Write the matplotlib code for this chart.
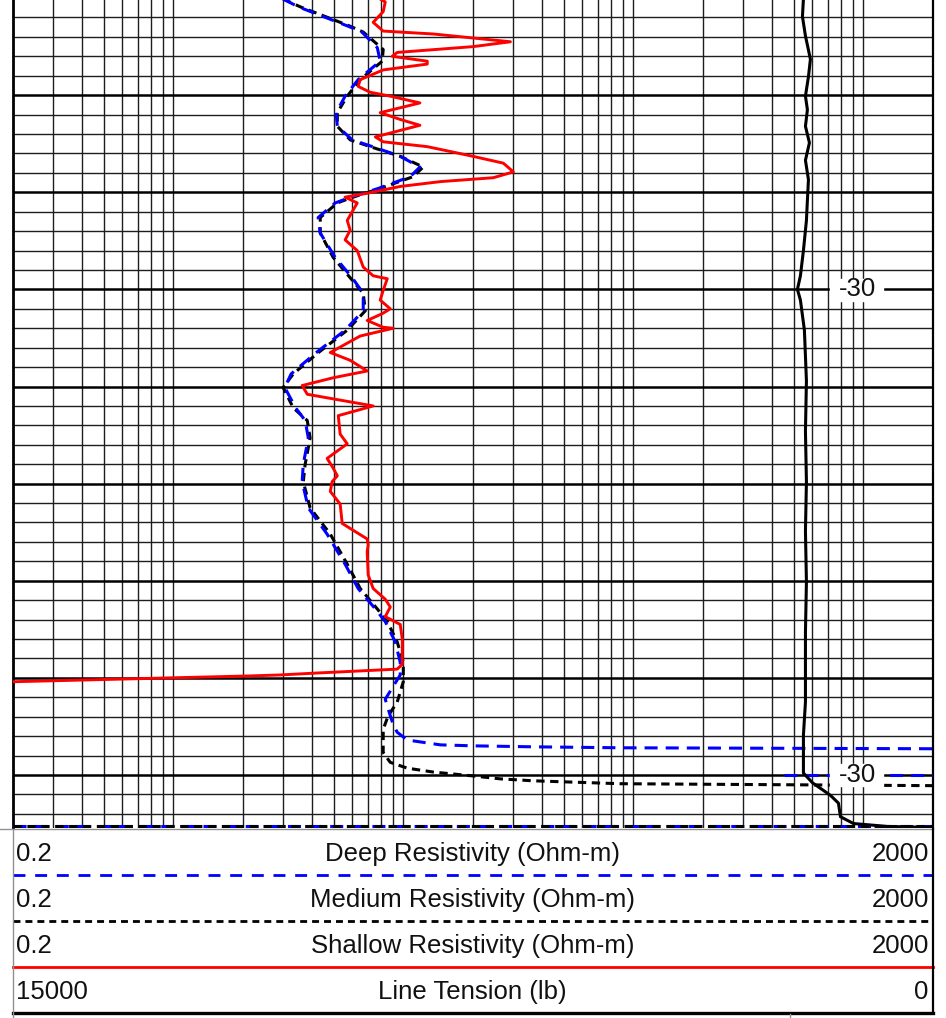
import numpy as np
import matplotlib.pyplot as plt
from matplotlib.lines import Line2D

plt.rcParams['font.family'] = ['Liberation Sans', 'DejaVu Sans']
plt.rcParams['lines.scale_dashes'] = False
plt.rcParams['lines.solid_joinstyle'] = 'round'
plt.rcParams['lines.dash_joinstyle'] = 'round'

# depth window (ft) and resistivity scale (ohm-m)
depth_top, depth_bot = 2970.2, 3055.46
res_min, res_max = 0.2, 2000
tension_left, tension_right = 15000, 0

# shallow resistivity
shallow_depth = [2970.1, 2970.4, 2971.4, 2972.5, 2973.4, 2973.7, 2974.5, 2975.0, 2975.6, 2976.0,
                 2976.5, 2976.8, 2977.4, 2978.4, 2979.1, 2979.7, 2980.1, 2980.8, 2981.8, 2982.5,
                 2983.1, 2984.3, 2984.8, 2985.3, 2985.8, 2986.3, 2987.0, 2987.9, 2988.5, 2988.9,
                 2989.4, 2990.1, 2990.5, 2991.1, 2992.0, 2992.9, 2993.9, 2994.9, 2996.0, 2997.7,
                 2998.6, 2998.9, 3000.1, 3001.1, 3002.0, 3002.5, 3003.2, 3003.9, 3004.0, 3004.8,
                 3006.5, 3007.3, 3008.4, 3009.1, 3009.9, 3010.8, 3012.0, 3013.0, 3014.9, 3015.9,
                 3017.4, 3018.4, 3019.2, 3019.8, 3020.8, 3022.1, 3024.1, 3025.7, 3026.3, 3027.0,
                 3029.4, 3030.8, 3031.9, 3032.7, 3033.7, 3034.5, 3036.0, 3038.6, 3039.1, 3039.2,
                 3039.5, 3039.7, 3039.8, 3040.4]
shallow_res = [7.93, 8.34, 8.17, 7.39, 8.17, 13.5, 29.2, 20.1, 9.40, 8.94,
               12.7, 12.7, 8.17, 6.49, 6.36, 7.17, 8.77, 11.8, 7.93, 9.69,
               11.8, 7.55, 8.17, 12.7, 16.0, 20.1, 27.2, 30.1, 24.6, 14.5,
               9.69, 6.96, 5.58, 6.30, 5.99, 5.70, 5.87, 5.58, 6.30, 6.69,
               7.39, 8.51, 8.17, 7.93, 8.77, 8.09, 6.96, 8.17, 9.03, 6.49,
               4.81, 5.87, 6.96, 4.95, 3.63, 3.82, 7.39, 5.21, 5.31, 5.70,
               4.66, 4.95, 5.16, 4.90, 4.81, 5.31, 5.42, 6.96, 7.03, 6.96,
               7.03, 7.39, 8.34, 8.77, 8.34, 9.69, 9.89, 9.89, 9.40, 7.70,
               4.22, 2.91, 2.16, 0.2]

# medium resistivity
medium_depth = [2970.1, 2970.9, 2971.7, 2972.9, 2973.5, 2975.3, 2976.5, 2978.4, 2980.1, 2981.8,
                2983.2, 2984.6, 2985.4, 2986.3, 2987.4, 2988.4, 2989.6, 2990.6, 2991.1, 2992.6,
                2994.2, 2996.7, 2998.8, 3000.4, 3002.2, 3004.2, 3006.6, 3008.7, 3010.1, 3012.2,
                3013.5, 3015.3, 3018.0, 3019.8, 3022.5, 3025.2, 3028.3, 3030.8, 3032.9, 3034.2,
                3036.3, 3038.4, 3040.4, 3042.5, 3043.9, 3045.3, 3047.7, 3048.7, 3049.3, 3049.7,
                3050.1, 3050.4, 3050.6, 3050.9, 3051.1]
medium_res = [3.00, 3.56, 4.35, 5.87, 6.69, 8.17, 8.09, 6.49, 5.70, 5.16,
              5.16, 5.87, 7.39, 9.69, 12.2, 11.0, 7.93, 5.87, 5.16, 4.35,
              4.35, 4.95, 5.87, 6.69, 6.83, 5.70, 4.22, 3.32, 3.00, 3.32,
              3.82, 3.93, 3.74, 3.67, 3.93, 4.81, 5.70, 6.49, 7.70, 8.51,
              9.40, 9.99, 9.99, 9.40, 8.59, 8.17, 8.17, 8.77, 10.4, 13.5,
              20.1, 26.4, 36.7, 87.8, 2000]

# deep resistivity
deep_depth = [2970.1, 2970.9, 2971.7, 2972.9, 2973.5, 2975.1, 2976.5, 2978.4, 2980.1, 2981.8,
              2983.2, 2984.6, 2985.4, 2986.3, 2987.4, 2988.4, 2989.6, 2990.6, 2991.1, 2992.6,
              2994.2, 2996.7, 2998.8, 3000.4, 3002.2, 3004.2, 3006.6, 3008.7, 3010.1, 3012.2,
              3013.5, 3015.3, 3018.0, 3019.8, 3022.5, 3025.2, 3028.3, 3030.8, 3032.9, 3034.2,
              3036.3, 3038.4, 3039.7, 3042.2, 3043.9, 3044.8, 3045.6, 3046.4, 3046.9, 3047.0,
              3047.1, 3047.2, 3047.3]
deep_res = [3.00, 3.49, 4.26, 5.75, 6.60, 7.70, 7.93, 6.36, 5.58, 5.10,
            5.16, 5.99, 7.55, 9.69, 11.8, 10.7, 7.78, 5.75, 5.05, 4.26,
            4.35, 5.05, 5.99, 6.69, 6.69, 5.58, 4.13, 3.25, 3.05, 3.40,
            3.74, 3.86, 3.67, 3.63, 3.86, 4.66, 5.58, 6.36, 7.55, 8.34,
            9.22, 9.69, 9.69, 8.34, 8.77, 9.03, 9.40, 10.4, 14.5, 20.1,
            36.7, 87.8, 2000]

# deep curve segment wrapping in from the right, and both curves along the last sample
deep_wrap_depth = [3050.0, 3050.0]
deep_wrap_res = [450, 2000]
last_depth = [3055.3, 3055.3]
last_res = [0.2, 2000]

# line tension (lb)
tension_depth = [2970.1, 2971.9, 2973.9, 2976.3, 2978.1, 2980.1, 2981.5, 2983.2, 2984.9, 2986.7,
                 2988.7, 2990.8, 2992.9, 2996.0, 2998.6, 3000.0, 3001.1, 3004.2, 3009.4, 3014.6,
                 3019.8, 3024.9, 3030.1, 3035.3, 3040.4, 3042.5, 3045.9, 3049.8, 3050.8, 3052.1,
                 3052.9, 3054.3, 3055.0, 3055.3, 3055.4]
tension = [2105, 2121, 2072, 1991, 2023, 2072, 2040, 2072, 2007, 2072,
           2023, 2040, 2056, 2105, 2154, 2203, 2154, 2089, 2056, 2072,
           2056, 2072, 2056, 2072, 2072, 2072, 2105, 2105, 1958, 1664,
           1534, 1501, 1289, 734, 0]

# depth annotations
depth_marks = [3000, 3050]
depth_texts = ['-30', '-30']

# header rows: left value, title, right value
header_left = ['0.2', '0.2', '0.2', '15000']
header_title = ['Deep Resistivity (Ohm-m)', 'Medium Resistivity (Ohm-m)',
                'Shallow Resistivity (Ohm-m)', 'Line Tension (lb)']
header_right = ['2000', '2000', '2000', '0']

W, H = 946, 1018
x0, x1 = 12.7, 932.5
fs = 18.5
txt_col = '#111111'
fig = plt.figure(figsize=(W / 100, H / 100), dpi=100)

# ---- log track ----
ax = fig.add_axes([x0 / W, 1 - 828 / H, (x1 - x0) / W, 828 / H])
ax.set_xscale('log')
ax.set_xlim(res_min, res_max)
ax.set_ylim(depth_bot, depth_top)
ax.set_xticks([])
ax.set_xticks([], minor=True)
ax.set_yticks([])
for s in ['top', 'bottom']:
    ax.spines[s].set_visible(False)
ax.spines['left'].set_linewidth(2.0)
ax.spines['right'].set_linewidth(1.6)

# log grid
for dec in [0.1, 1, 10, 100, 1000]:
    for k in range(1, 10):
        v = k * dec
        if res_min < v < res_max:
            ax.axvline(v, color='#1e1e1e', lw=1.0, zorder=1)
# depth grid, heavy every 10 ft
for d in range(2972, 3056, 2):
    if d % 10 == 0:
        ax.axhline(d, color='black', lw=1.8, zorder=1)
    else:
        ax.axhline(d, color='#1e1e1e', lw=1.0, zorder=1)

blue_dash = (9.4, 5.8)
black_dash = (6.0, 4.0)
ax.plot(medium_res, medium_depth, color='black', lw=2.2, dashes=black_dash, zorder=3)
ax.plot(deep_res, deep_depth, color='#0000ff', lw=2.2, dashes=blue_dash, zorder=4)
ax.plot(deep_wrap_res, deep_wrap_depth, color='#0000ff', lw=2.2, dashes=blue_dash, zorder=4)
ax.plot(last_res, last_depth, color='#0000ff', lw=2.2, dashes=blue_dash, zorder=3)
ax.plot(last_res, last_depth, color='black', lw=2.2, dashes=black_dash, zorder=4)
ax.plot(shallow_res, shallow_depth, color='#ff0000', lw=2.1, zorder=5)

# tension on its own linear scale, same depth axis
axt = ax.twiny()
axt.set_xlim(tension_left, tension_right)
axt.set_xticks([])
axt.axis('off')
axt.plot(tension, tension_depth, color='black', lw=2.2, zorder=5)

# depth labels with white boxes
for d, t in zip(depth_marks, depth_texts):
    ax.axhspan(d - 1.1, d + 1.15, xmin=(830 - x0) / (x1 - x0), xmax=(883 - x0) / (x1 - x0),
               color='white', zorder=8)
    ax.text(944, d, t, ha='center', va='center', fontsize=fs, color=txt_col, zorder=9)

# ---- header ----
hd = fig.add_axes([x0 / W, 1 - 1013 / H, (x1 - x0) / W, 184 / H])
hd.set_xlim(0, 1)
hd.set_ylim(4, 0)
hd.axis('off')
for i in range(4):
    hd.text(0.004, i + 0.54, header_left[i], ha='left', va='center', fontsize=fs, color=txt_col)
    hd.text(0.5, i + 0.54, header_title[i], ha='center', va='center', fontsize=fs, color=txt_col)
    hd.text(0.996, i + 0.54, header_right[i], ha='right', va='center', fontsize=fs, color=txt_col)
hd.plot([0, 1], [1, 1], color='#0000ff', lw=2.0, dashes=(8.6, 7.0), clip_on=False)
hd.plot([0, 1], [2, 2], color='black', lw=2.0, dashes=(5.0, 3.6), clip_on=False)
hd.plot([0, 1], [3, 3], color='#ff0000', lw=2.0, clip_on=False)
hd.plot([0, 1], [4, 4], color='black', lw=2.4, clip_on=False)
hd.plot([-x0 / (x1 - x0), 1], [0, 0], color='#909090', lw=1.0, clip_on=False)
hd.plot([0, 0], [0, 4], color='#909090', lw=1.0, clip_on=False)
hd.plot([1, 1], [0, 4], color='black', lw=1.6, clip_on=False)

# start of the next table below
fig.add_artist(Line2D([x0 / W] * 2, [0, 4 / H], color='#909090', lw=1.0))
fig.add_artist(Line2D([790 / W] * 2, [0, 4 / H], color='#909090', lw=1.0))

fig.savefig('out.png', dpi=100)
